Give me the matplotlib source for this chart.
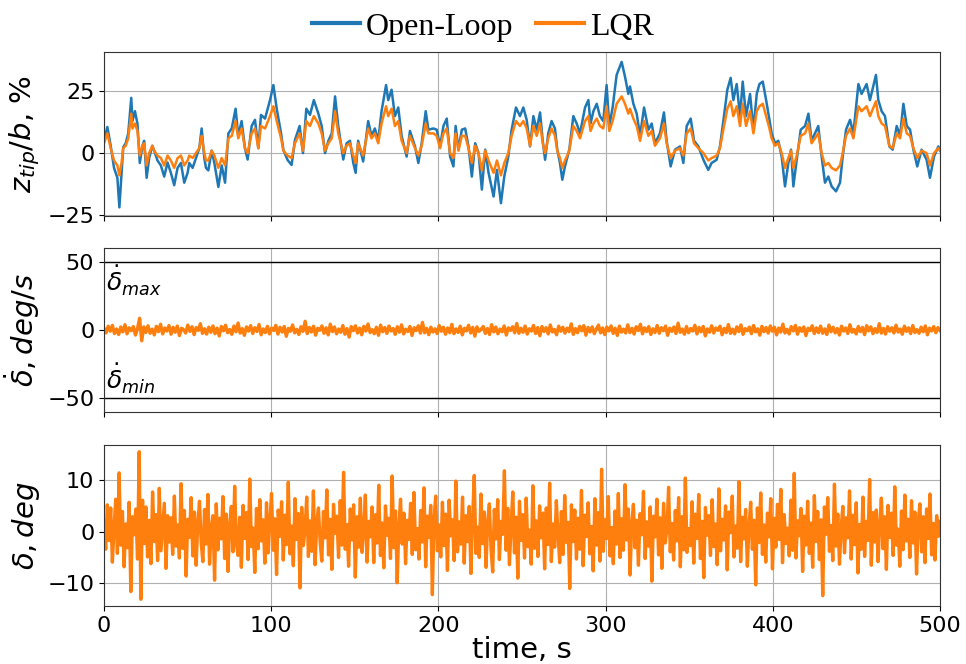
import numpy as np
import matplotlib
matplotlib.use("Agg")
import matplotlib.pyplot as plt

# ---------------- data ----------------
t_tip = [0, 2, 4, 6, 8, 9.2, 10.5, 11.5, 13, 14.5,
         16.3, 17, 18.5, 20, 21.4, 23, 24, 25.5, 27, 28.9,
         30, 32, 34, 36, 38, 40, 42, 44, 46, 48,
         50, 51, 53, 55, 57, 58.4, 60, 61, 62.4, 64.4,
         66, 68.4, 70.4, 72.4, 74.4, 76.4, 78.7, 80.3, 82.3, 84.3,
         85.9, 88.3, 90.3, 92.3, 93.9, 96.3, 99.3, 101.3, 103.3, 105.9,
         107.3, 109.8, 112.2, 114.2, 117, 119, 121, 123.2, 125.5, 128.2,
         130.2, 132.2, 134.2, 136.2, 138.2, 140.1, 143.1, 145.1, 147.1, 149.1,
         150.5, 152, 155, 158, 160, 162, 164, 166, 168.7, 170,
         172, 174, 176, 178, 181, 183, 186, 188, 190, 192.4,
         194, 197, 199, 201, 203, 205, 207, 209, 210.3, 212,
         214, 216, 218, 220, 222, 224, 226, 228, 230, 233,
         235, 237.4, 239.4, 241.8, 243.8, 246.4, 248.8, 250.8, 252.8, 254.8,
         256.8, 258.8, 260.8, 262.4, 263.8, 265.7, 267.7, 269.7, 271.1, 272.7,
         274.1, 275.7, 278.3, 280.7, 282.7, 284.7, 287.7, 289.7, 291, 292.7,
         294.7, 296.6, 298.6, 300.6, 302.2, 304.2, 306.6, 309.6, 311.6, 313.6,
         314.6, 316.6, 318.6, 320.6, 323, 325.6, 327.6, 329.5, 332.5, 334.9,
         336.5, 338.9, 341.5, 344.5, 346.5, 348.5, 350.9, 352.9, 355.5, 358.5,
         361.4, 363.4, 366.4, 368.4, 370.8, 372.8, 374.8, 376.4, 378.4, 380.4,
         382, 384, 386.4, 388.4, 390.4, 392, 394, 396, 398, 399.3,
         401.3, 403.3, 405.3, 407.3, 409.3, 410.9, 412.3, 414.3, 416.7, 419.3,
         421.3, 423.2, 425.2, 427.2, 429.2, 431.2, 433.2, 435.2, 437.8, 440.2,
         441.8, 443.8, 446.2, 448.2, 451.2, 453.1, 456.1, 458.1, 461.7, 463.1,
         465.1, 467.1, 469.7, 471.7, 474.1, 476.1, 478.1, 480.1, 482.1, 484.1,
         486.4, 489, 492, 494, 496.4, 499, 500]

z_open = [5, 10.6, 3, -6, -10, -22, -8, 2.4, 4, 8,
          22.4, 13, 17, 12, -4, 3, 5, -10, -2, 3,
          1, -3, -5, -9.5, -3.8, -8, -13, -6, -4, -12,
          -8, -4, -6, -2, 2, 10, -2, -6, -7, 1,
          -4, -13.7, -5, -12, 8, 10, 18, 7, 13, 2,
          -2.6, 11, 13.5, 2, 15.5, 14, 21.5, 27.6, 18, 8,
          1.2, -2.8, -4.8, 5.3, 11, 0, 18, 15.5, 21.5, 16,
          11, 0, 5, 8, 23, 11, -2.6, 4, 5, -4,
          -8, 5, -3.4, 13, 7, 10, 5, 17, 27.6, 21.5,
          25.7, 15, 18.5, 7, -1.4, 9, 2.7, -4, 4, 17,
          9.5, 10, 9.5, 2.7, 11, 14, -1.4, -5.4, 11, 1.4,
          9.5, 10, 2.7, -9.5, 4, 0, -14.8, 1.4, -8, -17.6,
          -6.8, -20.3, -9.5, -1.4, 9.5, 18.5, 15, 18.5, 13.5, 2.7,
          15, 9.5, 16.5, 5, -2.7, 8, 13, 10, 1.4, -4,
          -10.8, -5.4, 1.4, 15, 12, 8, 18.5, 21.5, 12, 17,
          20, 15, 13, 27.6, 11, 18.5, 31.7, 37, 31, 24,
          27, 20, 16, 7, 18.5, 9.5, 12, 4, 8, 16.5,
          5, -5.4, 1.4, 2.7, -4, 11, 14, 5, 2.7, -2.7,
          -6.8, -4, -2.7, 2.7, 15, 25.7, 30.5, 21.5, 28, 15,
          29, 15, 24, 9.5, 24, 28, 29, 21.5, 13.5, 8,
          4, 5, -1.4, -13.5, -4, 1.4, -13.5, -2.7, 9.5, 11,
          16, 5, 8, 11, -1.4, -12, -9.5, -13.5, -15.5, -12,
          -1.4, 9.5, 13.5, 8, 28, 24, 28, 21.5, 31.7, 21.5,
          17, 15, 2.7, 1.4, 11, 7, 20, 11, 9.5, 1.4,
          -5.4, 1.4, -2.7, -10, -1.4, 2.7, 1]

z_lqr = [4, 8, 2, -3, -5, -9, -4, 2, 3, 6,
         16, 10, 12, 9, -1, 3, 4, -5, 0, 3,
         1, -1, -2, -5, -1, -3, -6, -2, -1, -5,
         -3, -1, -2, 0, 2, 7, 0, -3, -3, 1,
         -1, -6, -2, -5, 6, 7, 13, 6, 10, 2,
         0, 8, 10, 2, 11, 10, 15, 19, 13, 6,
         1, -1, -2, 4, 8, 1, 13, 11, 15, 12,
         8, 1, 4, 6, 17, 8, 0, 3, 4, -1,
         -4, 4, -1, 10, 6, 8, 4, 12, 19, 15,
         18, 11, 13, 5, 0, 7, 2, -1, 3, 12,
         8, 8, 7, 2, 8, 10, 0, -2, 8, 1,
         7, 7, 2, -4, 3, 0, -7, 1, -3, -8,
         -3, -9, -4, 0, 7, 13, 11, 13, 10, 3,
         11, 7, 12, 4, 0, 6, 10, 7, 1, -2,
         -6, -3, 1, 11, 9, 6, 13, 15, 9, 12,
         14, 11, 10, 19, 9, 13, 20, 23, 20, 16,
         18, 14, 11, 5, 13, 7, 9, 3, 6, 12,
         4, -2, 1, 2, -1, 8, 10, 4, 2, 0,
         -3, -2, -1, 2, 11, 18, 21, 15, 19, 11,
         20, 11, 17, 8, 17, 19, 20, 15, 10, 6,
         3, 4, 0, -6, -2, 1, -6, -1, 7, 8,
         12, 4, 6, 8, 0, -5, -4, -6, -7, -5,
         0, 7, 10, 6, 19, 17, 19, 15, 21, 15,
         12, 11, 3, 2, 8, 6, 14, 8, 7, 2,
         -2, 1, 0, -5, 0, 2, 1]

# control surface rate (deg/s), LQR, sampled uniformly over 0..500 s
ddelta_lqr = [
    1.2, -2.1, 2.8, -0.9, 3.4, -2.6, 0.7, -3.3, 2.2, -1.4, 3.9, -2.8, 1.6, -0.5, 2.5, -3.7, 1.1, 8.6, -7.9, 2.3,
    -1.8, 3.1, -2.4, 0.6, -3.6, 2.7, -1.2, 4.2, -2.9, 1.5, -0.8, 3.3, -3.1, 2.0, -1.6, 2.9, -4.1, 1.3, 0.2, -2.2,
    3.6, -1.0, 2.4, -3.4, 1.8, -0.3, 4.6, -2.5, 0.9, -3.0, 2.1, -1.7, 3.0, -2.7, 1.4, -4.4, 2.6, -0.6, 3.5, -2.0,
    0.4, -3.2, 2.9, -1.3, 5.1, -2.3, 1.0, -3.9, 2.3, -0.7, 3.2, -2.6, 1.7, -1.1, 4.0, -3.5, 0.8, -1.9, 2.7, -2.9,
    1.5, -0.4, 3.4, -3.0, 2.0, -1.5, 2.6, -4.6, 1.2, -0.9, 3.7, -2.1, 0.5, -3.3, 2.4, -1.0, 6.4, -2.6, 1.9, -1.4,
    2.8, -3.8, 1.3, -0.2, 3.0, -2.4, 1.6, -3.6, 4.3, -1.2, 2.2, -2.8, 0.7, -1.7, 3.3, -3.1, 1.0, -5.2, 2.5, -0.5,
    3.1, -2.2, 1.4, -3.5, 2.7, -0.8, 4.4, -1.9, 0.3, -2.7, 2.0, -3.9, 3.6, -1.3, 1.8, -2.5, 2.9, -0.7, 1.1, -3.2,
    2.4, -1.6, 3.8, -2.9, 0.6, -1.1, 2.6, -4.0, 1.7, -0.4, 3.1, -2.3, 5.6, -2.0, 1.2, -3.4, 2.1, -1.5, 0.9, -2.6,
    3.3, -0.9, 2.0, -3.1, 1.5, -2.0, 4.1, -2.7, 0.8, -1.8, 2.8, -3.6, 1.3, -0.6, 3.5, -2.2, 1.9, -4.5, 2.3, -1.0,
    0.5, 2.6, -2.5, 1.1, -3.3, 3.9, -1.4, 2.2, -2.8, 0.7, -1.3, 3.0, -3.7, 1.6, -0.3, 2.4, -2.1, 4.8, -2.4, 1.3,
    -1.7, 2.9, -3.0, 0.9, -0.8, 3.4, -2.6, 1.8, -4.2, 2.5, -1.1, 1.7, -2.9, 3.7, -1.5, 0.4, -3.5, 2.8, -0.9, 2.0,
    -2.3, 1.4, -1.2, 4.5, -3.2, 1.0, -2.0, 2.7, -0.6, 3.2, -3.8, 1.9, -1.4, 2.3, -2.7, 0.8, 3.6, -2.1, 1.5, -3.4,
    2.2, -0.7, 3.0, -2.5, 1.3, -4.0, 2.9, -1.6, 0.6, -2.2, 3.8, -1.9, 1.2, -3.0, 2.4, -0.4, 4.2, -2.8, 1.6, -1.2,
    2.5, -3.3, 0.9, -1.8, 3.3, -2.4, 1.7, -0.5, 2.9, -3.9, 1.4, -1.0, 2.2, -2.6, 5.0, -1.7, 0.7, -3.1, 2.6, -2.0,
    1.1, -0.8, 3.5, -2.9, 1.9, -1.3, 2.6, -4.3, 0.8, -1.6, 3.1, -2.2, 1.5, -0.3, 2.8, -3.5, 1.2, -1.9, 4.0, -2.5,
    0.6, -2.8, 2.3, -1.1, 3.7, -3.2, 1.0, -0.6, 2.1, -2.7, 3.3, -1.4, 0.9, -3.8, 2.7, -1.2, 1.8, -2.3, 3.0, -0.9,
    2.0, -3.6, 1.4, -1.5, 4.3, -2.2, 0.5, -2.9, 2.5, -0.7, 3.4, -3.1, 1.7, -1.0, 2.2, -4.1, 1.3, -0.4, 3.1, -2.6,
    1.6, -1.9, 2.9, -2.4, 0.8, -3.3, 3.6, -1.3, 2.0, -2.1, 1.1, -3.7, 2.8, -0.8, 1.5, -2.5, 3.9, -1.6, 0.4, -2.9,
    2.6, -1.2, 1.9, -3.4, 3.2, -0.6, 2.3, -2.7, 1.0, -1.8, 4.6, -2.3, 1.2, -3.0, 2.4, -0.9, 1.7, -2.2, 3.5, -1.5,
    0.7, -3.1, 2.8, -1.0, 1.6, -2.6, 3.3, -1.9, 0.3, -2.4, 2.1, -1.3, 3.0, -3.5, 1.4, -0.7, 2.5, -2.0, 1.8, -0.4]

# control surface deflection (deg), LQR, sampled uniformly over 0..500 s
delta_lqr = [
    2.1, -3.4, 5.2, -1.7, 4.6, -5.9, 0.8, 6.3, -4.2, 11.4, -2.6, 3.9, -6.8, 1.5, -3.1, 5.7, -11.6, 2.9, -0.6, 4.4,
    -5.3, 15.5, -13.1, 6.1, -2.3, 4.8, -4.9, 2.2, -6.2, 7.7, -1.9, 3.3, -5.6, 8.4, -3.7, 0.9, 5.5, -7.1, 3.1, -2.0,
    2.7, -4.4, 6.9, -2.8, 1.3, -5.1, 9.3, -3.2, 4.1, -8.6, 2.4, -1.1, 6.6, -4.7, 3.8, -6.5, 1.6, 5.9, -2.1, -5.8,
    4.3, -2.4, 7.2, -6.3, 0.4, 3.1, -9.4, 5.4, -3.5, 2.6, -1.4, 6.8, -5.2, 3.4, -7.7, 1.2, 4.9, -3.9, 8.8, -2.2,
    -4.6, 2.8, -6.9, 5.1, -1.3, 3.7, -5.4, 10.2, -2.9, 0.7, -7.9, 4.5, -3.3, 6.2, -1.8, 2.3, -6.1, 5.6, -4.1, 1.9,
    7.4, -3.6, 2.5, -8.3, 4.2, -0.9, 5.8, -5.5, 3.2, -2.5, 9.6, -4.3, 1.1, -6.6, 6.4, -1.5, 3.5, -10.9, 4.7, -2.7,
    0.5, 6.7, -4.8, 2.1, -3.8, 7.9, -6.4, 1.8, 4.6, -2.0, -5.7, 3.9, -1.2, 8.1, -4.5, 2.4, -7.3, 5.3, -0.3, 3.0,
    -5.0, 6.0, -2.6, 11.5, -3.4, 1.4, -6.7, 4.4, -1.6, 5.2, -8.8, 2.9, -3.0, 6.5, -4.0, 0.2, 7.1, -5.9, 2.0, -1.0,
    4.8, -6.0, 3.3, -2.2, 9.0, -4.6, 1.7, -7.0, 5.0, -0.7, 2.6, -5.2, 10.8, -3.1, 4.0, -9.9, 1.0, 6.3, -2.4, 3.6,
    -6.2, 2.2, -1.5, 5.5, -4.4, 7.6, -3.5, 0.6, -5.3, 4.1, -2.0, 8.5, -6.8, 3.0, -1.1, 5.1, -12.2, 2.7, 6.9, -3.7,
    1.3, -4.9, 5.7, -2.7, 3.4, -7.5, 6.1, -0.8, 2.3, -5.6, 9.8, -3.9, 1.9, -2.4, 6.7, -6.1, 3.1, -1.9, 4.9, -8.1,
    2.5, 10.9, -4.2, 0.9, -5.0, 7.3, -2.3, 3.8, -6.9, 1.6, 5.4, -3.3, -7.8, 4.3, -1.4, 6.2, -5.4, 2.0, -0.5, 11.8,
    -3.6, 4.5, -6.4, 1.2, 7.7, -4.1, 2.8, -9.0, 5.9, -1.7, 3.3, -5.1, 6.5, -2.9, 0.3, -6.3, 8.9, -3.2, 2.1, -4.8,
    5.0, -1.2, 3.6, -7.2, 4.6, -2.5, 9.4, -5.8, 1.5, -3.0, 6.0, -0.4, -6.0, 3.9, -4.4, 7.0, -2.1, 1.8, -11.0, 5.2,
    -1.9, 4.2, -5.3, 2.6, -3.4, 8.0, -6.6, 3.2, -0.9, 5.6, -4.3, 1.0, -7.6, 6.4, -2.6, 3.7, -5.7, 12.1, -3.8, 2.3,
    -1.3, 6.8, -4.7, 0.8, -6.2, 4.0, -2.4, 7.4, -5.0, 2.5, -3.6, 9.1, -1.6, 4.4, -8.4, 1.4, 5.3, -3.1, 2.2, -6.5,
    3.5, -0.6, 7.8, -5.2, 1.9, -2.8, 4.8, -9.6, 3.0, -1.0, 6.3, -4.5, 2.7, -7.1, 5.5, -2.2, 0.4, 8.6, -3.9, 1.6,
    -5.5, 4.1, -1.8, 6.6, -6.8, 2.9, -3.5, 10.4, -4.0, 0.6, -2.7, 5.8, -6.1, 3.4, -1.3, 7.2, -5.2, 2.0, -8.9, 4.7,
    -0.7, 3.1, -4.6, 6.2, -2.9, 1.5, -6.4, 8.3, -3.7, 2.4, -1.6, 5.0, -7.4, 3.8, -0.2, 6.9, -4.9, 1.1, -3.2, 9.7,
    -5.8, 2.8, -1.4, 4.3, -6.7, 0.9, 5.7, -3.4, 2.2, -10.3, 4.6, -2.1, 7.5, -4.4, 1.3, -5.9, 3.6, -1.0, 6.4, -7.2,
    2.6, -3.0, 5.3, -1.5, 8.2, -6.0, 3.3, -2.3, 0.7, -4.7, 6.1, -3.6, 11.3, -5.1, 2.1, -0.8, 4.5, -7.7, 3.0, -2.6,
    5.9, -4.2, 1.7, -6.9, 7.0, -1.9, 3.9, -5.4, 2.3, -12.4, 4.8, -0.5, 6.6, -3.8, 1.2, -5.6, 9.2, -2.8, 3.4, -6.3,
    0.8, 4.9, -4.1, 2.7, -1.2, 7.9, -5.3, 3.2, -2.5, 5.6, -8.0, 1.4, -3.4, 6.7, -4.8, 2.0, -1.7, 10.1, -6.5, 3.7,
    -2.0, 4.2, -5.8, 1.0, 6.5, -3.3, 2.9, -7.3, 5.1, -1.1, 3.6, -4.6, 8.7, -2.6, 0.5, -6.7, 4.0, -3.5, 7.1, -1.8,
    2.4, -5.0, 6.0, -2.2, 3.8, -8.2, 1.8, 5.4, -3.9, 2.9, -6.0, 4.4, -1.3, 7.3, -4.5, 1.6, -5.5, 3.1, -0.9, 2.0]

rate_limits = [50, -50]
series_labels = ["Open-Loop", "LQR"]
x_ticks = [0, 100, 200, 300, 400, 500]

assert len(t_tip) == len(z_open) == len(z_lqr)

t_rate = np.linspace(0, 500, len(ddelta_lqr))
t_defl = np.linspace(0, 500, len(delta_lqr))

# ---------------- plot ----------------
BLUE = "#1f77b4"
ORANGE = "#ff7f0e"
plt.rcParams["font.size"] = 16
plt.rcParams["axes.edgecolor"] = "#333333"

fig = plt.figure(figsize=(9.66, 6.64), dpi=100)
W, H = 966, 664
left, right = 104 / W, 940 / W

def mk(top_px, bot_px):
    return fig.add_axes([left, 1 - bot_px / H, right - left, (bot_px - top_px) / H])

ax1 = mk(52, 216)
ax2 = mk(248, 412)
ax3 = mk(445, 606)

for ax in (ax1, ax2, ax3):
    ax.set_xlim(0, 500)
    ax.set_xticks(x_ticks)
    ax.grid(True, color="#b0b0b0", linewidth=0.8)
    ax.set_axisbelow(True)
    ax.tick_params(labelsize=16)

LBL = 21
l1, = ax1.plot(t_tip, z_open, color=BLUE, lw=1.8, label=series_labels[0])
l2, = ax1.plot(t_tip, z_lqr, color=ORANGE, lw=1.8, label=series_labels[1])
ax1.set_ylim(-25.5, 41)
ax1.set_yticks([-25, 0, 25])
ax1.set_ylabel("$z_{tip}/b$, %", fontsize=LBL)
ax1.tick_params(labelbottom=False)

ax2.plot(t_rate, ddelta_lqr, color=ORANGE, lw=2.4)
for lim in rate_limits:
    ax2.axhline(lim, color="black", lw=1.0)
ax2.set_ylim(-60, 60)
ax2.set_yticks([-50, 0, 50])
ax2.set_ylabel(r"$\dot{\delta}, deg/s$", fontsize=LBL)
ax2.tick_params(labelbottom=False)
ax2.text(1, rate_limits[0] - 1.5, r"$\dot{\delta}_{max}$", fontsize=18, va="top", ha="left")
ax2.text(1, rate_limits[1] + 1.5, r"$\dot{\delta}_{min}$", fontsize=18, va="bottom", ha="left")

ax3.plot(t_defl, delta_lqr, color=ORANGE, lw=2.4)
ax3.set_ylim(-14.4, 16.8)
ax3.set_yticks([-10, 0, 10])
ax3.set_ylabel(r"$\delta, deg$", fontsize=LBL)
ax3.set_xlabel("time, s", fontsize=LBL, labelpad=0)

fig.align_ylabels([ax1, ax2, ax3])

leg = fig.legend(handles=[l1, l2], loc="upper center", bbox_to_anchor=(0.5, 1.025),
                 ncol=2, frameon=False, handlelength=1.5, handletextpad=0.2,
                 columnspacing=0.7, prop={"family": "Liberation Serif", "size": 23})
for h in leg.get_lines():
    h.set_linewidth(3)

fig.savefig("out.png", dpi=100)
